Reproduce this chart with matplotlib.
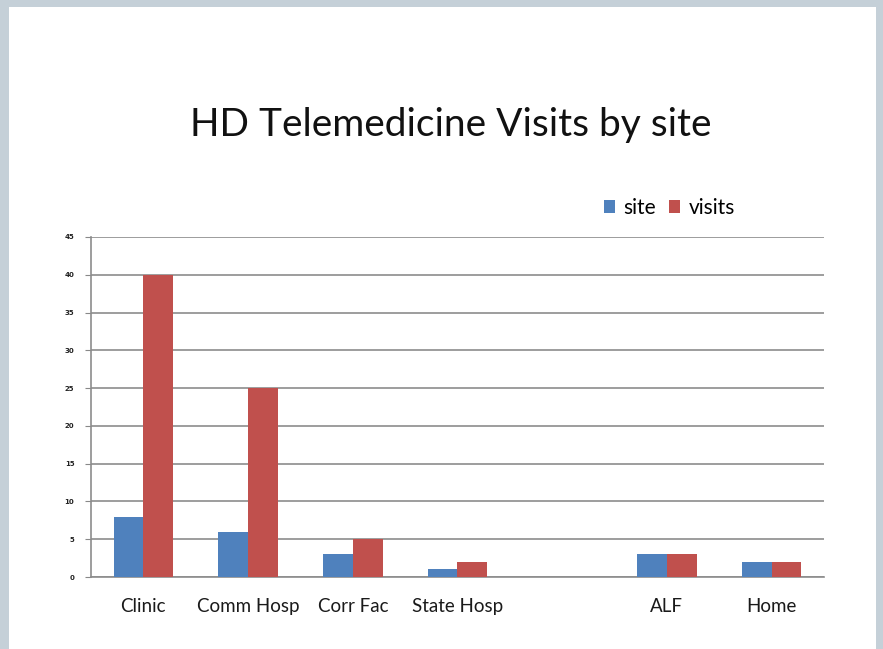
import numpy as np
from matplotlib import pyplot as plt
from matplotlib.patches import Rectangle

# data (blank slot between State Hosp and ALF)
categories = ["Clinic", "Comm Hosp", "Corr Fac", "State Hosp", "", "ALF", "Home"]
site = [8, 6, 3, 1, np.nan, 3, 2]
visits = [40, 25, 5, 2, np.nan, 3, 2]
yticks = [0, 5, 10, 15, 20, 25, 30, 35, 40, 45]

W, H = 883, 649
fig = plt.figure(figsize=(W / 100, H / 100), dpi=100)
fig.patch.set_facecolor('#c5d0d8')
# white slide panel
fig.patches.append(Rectangle((9 / W, 0), (876 - 9) / W, (H - 7) / H,
                             transform=fig.transFigure, facecolor='white',
                             edgecolor='none', zorder=-5))

ax = fig.add_axes([91 / W, (H - 577) / H, 733 / W, 340 / H])
ax.set_zorder(2)
ax.set_facecolor('none')

x = np.arange(len(categories))
bw = 0.285
ax.bar(x - bw / 2, site, bw, color='#4f81bd', label='site', zorder=3)
ax.bar(x + bw / 2, visits, bw, color='#c0504d', label='visits', zorder=3)

ax.set_xlim(-0.5, len(categories) - 0.5)
ax.set_ylim(0, 45)
ax.set_yticks(yticks)
ax.set_yticklabels([str(t) for t in yticks], fontsize=5, family='DejaVu Sans',
                   fontweight='bold', color='#222222')
ax.set_xticks(x)
ax.set_xticklabels(categories, fontsize=13.5, family='Lato', color='#1a1a1a')
ax.tick_params(axis='x', length=0, pad=15)
ax.tick_params(axis='y', length=4, color='#888888', pad=8)
ax.yaxis.grid(True, color='#8c8c8c', linewidth=1.2, zorder=0)
for s in ['top', 'right']:
    ax.spines[s].set_visible(False)
ax.spines['left'].set_color('#8c8c8c')
ax.spines['bottom'].set_color('#8c8c8c')
ax.spines['left'].set_linewidth(1.2)
ax.spines['bottom'].set_linewidth(1.2)

fig.text(451 / W, 1 - 125 / H, "HD Telemedicine Visits by site", fontsize=28,
         family='Lato', ha='center', va='center', color='#111111', zorder=3)

leg = ax.legend(loc='center left', bbox_to_anchor=(585 / W, 1 - 208 / H),
                bbox_transform=fig.transFigure, ncol=2, frameon=False,
                prop={'family': 'Lato', 'size': 15},
                handlelength=0.55, handleheight=0.55, handletextpad=0.4,
                columnspacing=0.6)

fig.savefig('out.png', dpi=100, facecolor=fig.get_facecolor())
